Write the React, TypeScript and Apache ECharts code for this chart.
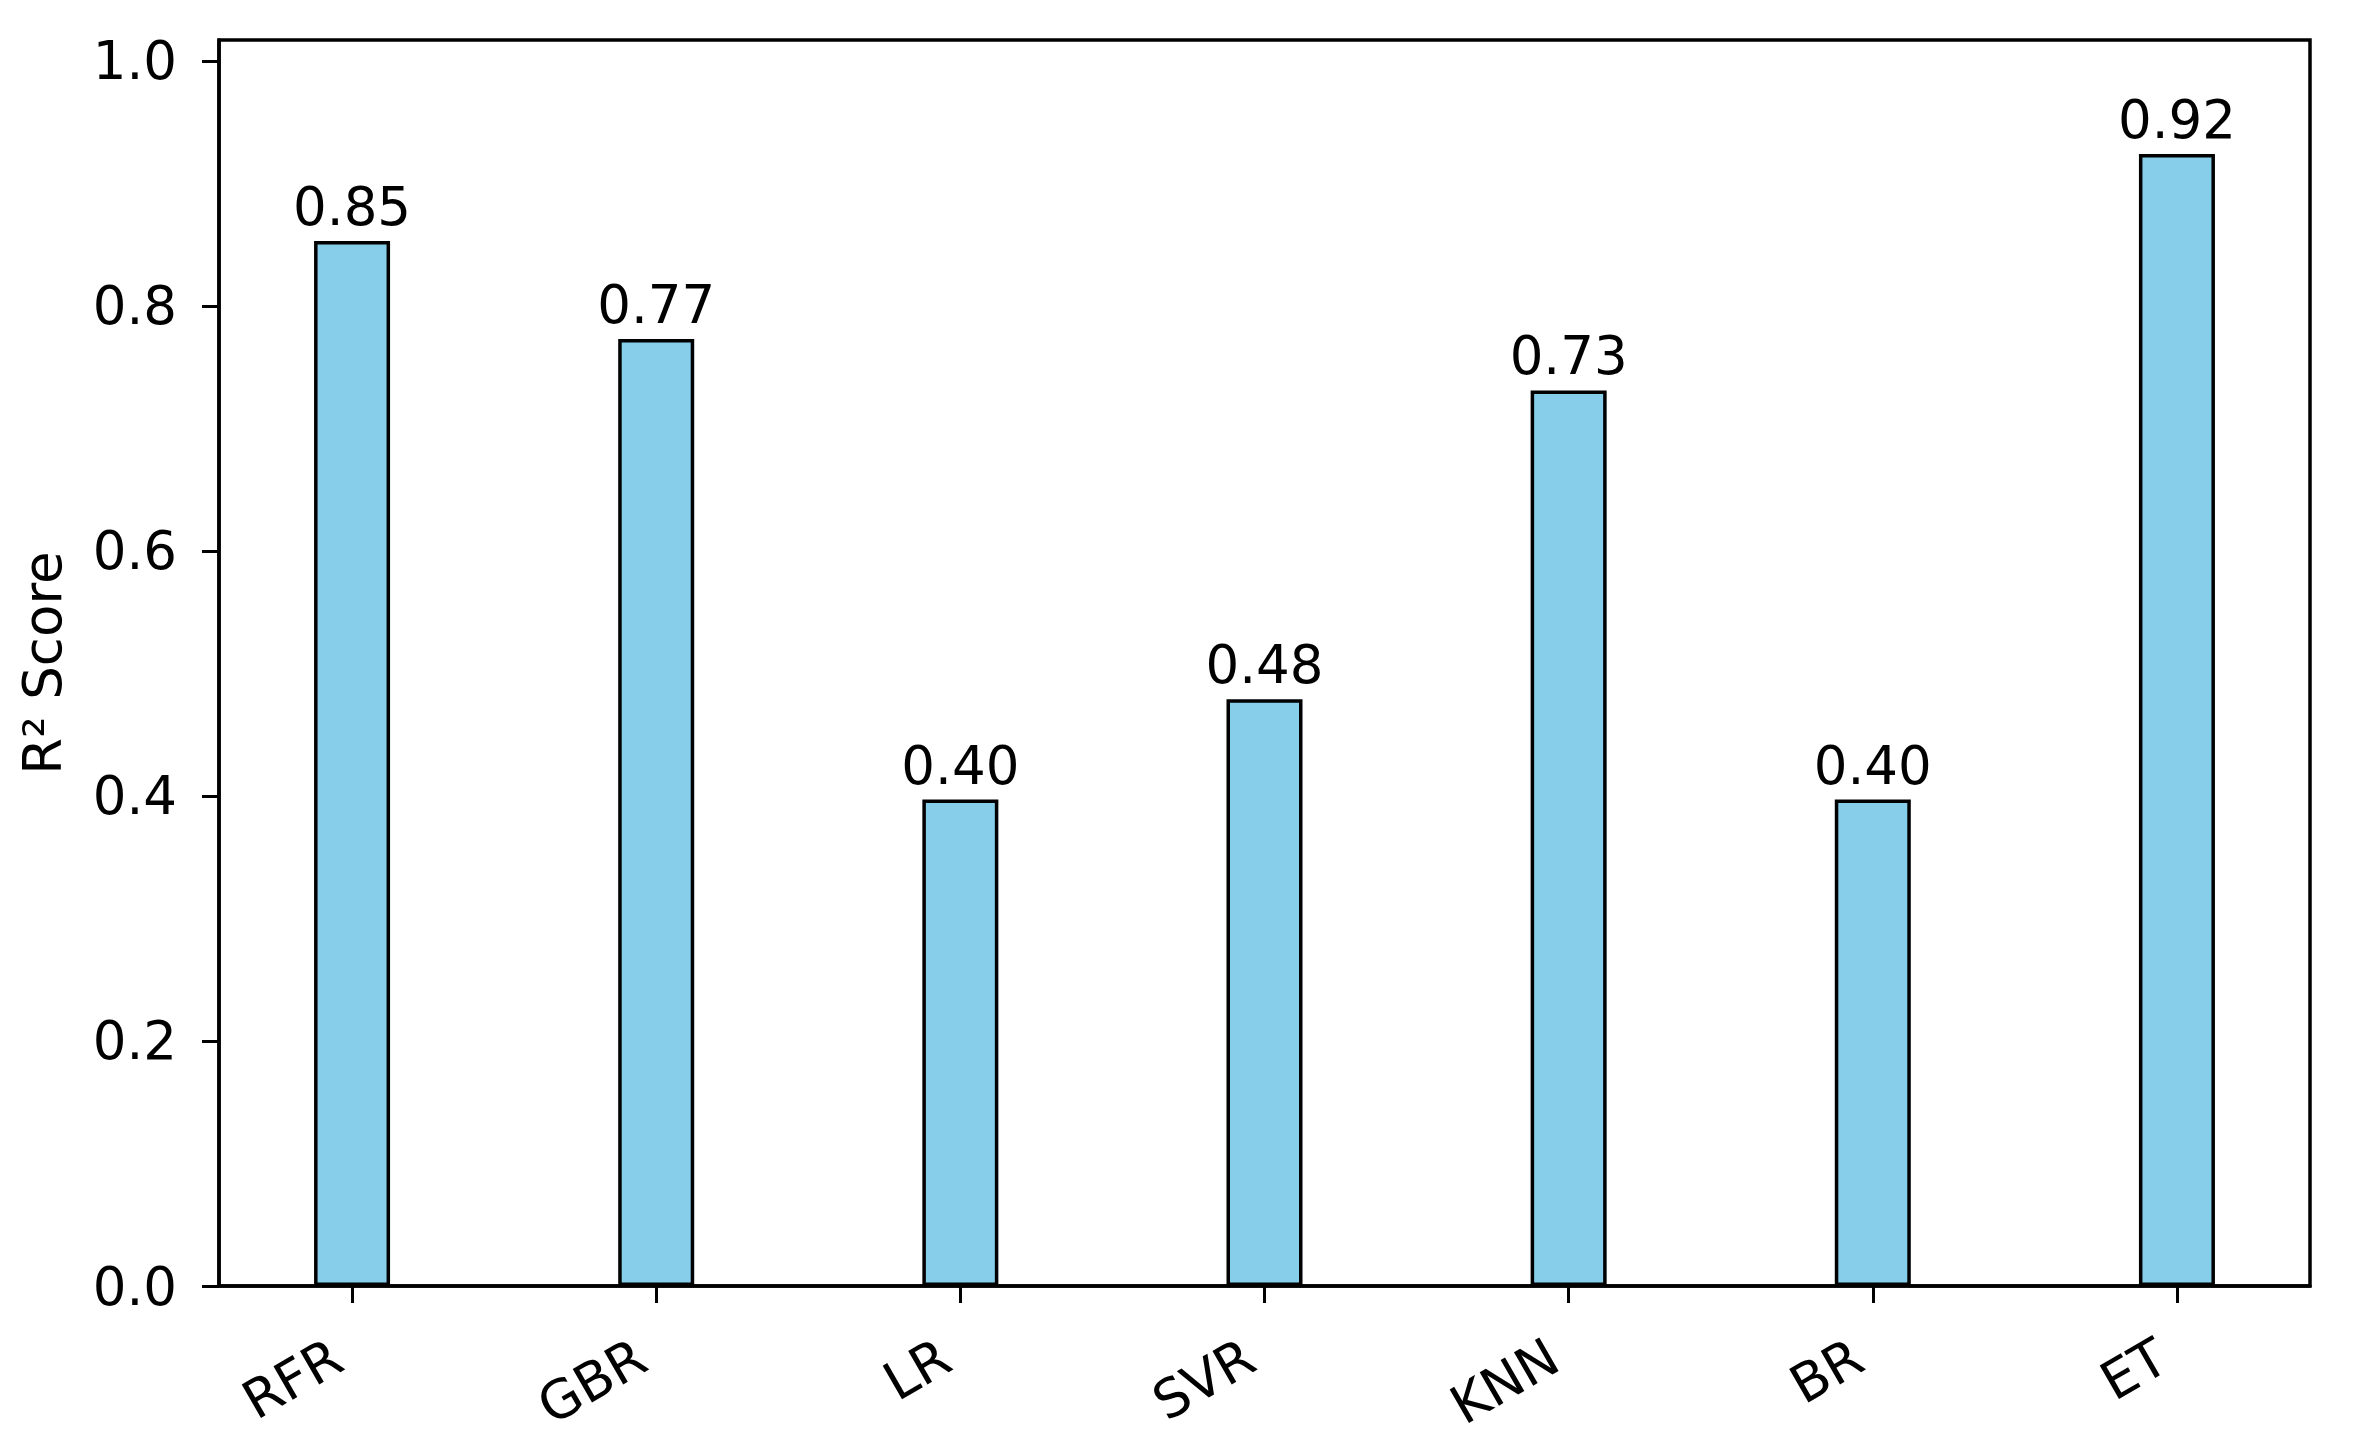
import React, { useEffect, useRef } from "react";
import * as echarts from "echarts";

const categories = ["RFR", "GBR", "LR", "SVR", "KNN", "BR", "ET"];
const r2Scores = [0.853, 0.773, 0.397, 0.479, 0.731, 0.397, 0.924];
const yTicks = [0, 0.2, 0.4, 0.6, 0.8, 1.0];
const yLabel = "R² Score";

const FONT = "DejaVu Sans";

export default function App() {
  const ref = useRef<HTMLDivElement>(null);
  useEffect(() => {
    document.body.style.margin = "0";
    const chart = echarts.init(ref.current!, null, { renderer: "svg" });
    const idx = categories.map((_, i) => i);
    chart.setOption({
      animation: false,
      backgroundColor: "#ffffff",
      grid: {
        left: 219,
        right: 52,
        top: 40,
        bottom: 155,
        show: true,
        borderColor: "#000000",
        borderWidth: 3.5,
        backgroundColor: "transparent",
      },
      xAxis: {
        type: "value",
        min: -0.4375,
        max: categories.length - 1 + 0.4375,
        splitLine: { show: false },
        axisLine: { show: true, onZero: false, lineStyle: { color: "#000", width: 3.5 } },
        axisTick: {
          show: true,
          inside: false,
          length: 17,
          customValues: idx,
          lineStyle: { color: "#000", width: 3 },
        },
        axisLabel: {
          customValues: idx,
          rotate: 30,
          margin: 58,
          padding: [0, 17, 0, 0],
          fontFamily: FONT,
          fontSize: 53,
          color: "#000",
          formatter: (v: number) => categories[Math.round(v)] ?? "",
        },
      },
      yAxis: {
        type: "value",
        min: 0,
        max: 1.017,
        name: yLabel,
        nameLocation: "middle",
        nameGap: 150,
        nameTextStyle: { fontFamily: FONT, fontSize: 53, color: "#000" },
        splitLine: { show: false },
        axisLine: { show: true, onZero: false, lineStyle: { color: "#000", width: 3.5 } },
        axisTick: {
          show: true,
          inside: false,
          length: 17,
          customValues: yTicks,
          lineStyle: { color: "#000", width: 3 },
        },
        axisLabel: {
          customValues: yTicks,
          margin: 42,
          fontFamily: FONT,
          fontSize: 53,
          color: "#000",
          formatter: (v: number) => v.toFixed(1),
        },
      },
      series: [
        {
          type: "bar",
          data: r2Scores.map((v, i) => [i, v]),
          barWidth: 76,
          itemStyle: { color: "#87CEEB", borderColor: "#000", borderWidth: 3.5 },
          label: {
            show: true,
            position: "top",
            distance: 8,
            fontFamily: FONT,
            fontSize: 53,
            color: "#000",
            formatter: (p: any) => p.value[1].toFixed(2),
          },
        },
      ],
    });
    return () => chart.dispose();
  }, []);
  return (
    <div
      ref={ref}
      style={{ position: "absolute", left: 0, top: 0, width: 2362, height: 1441 }}
    />
  );
}
